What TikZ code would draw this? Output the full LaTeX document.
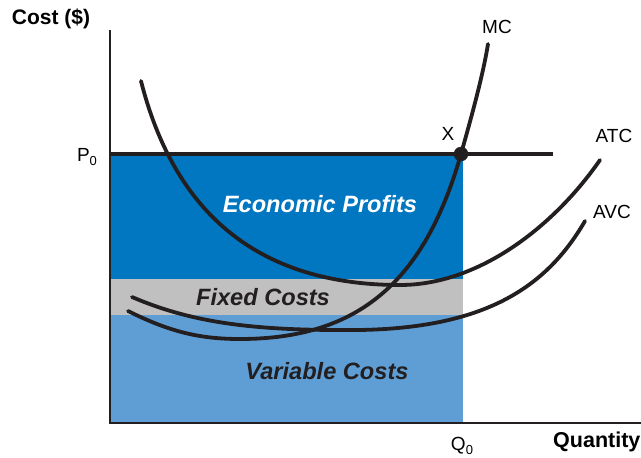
\documentclass[tikz,border=0pt]{standalone}
\usepackage{fontspec}
\setmainfont{Liberation Sans}
\definecolor{profitblue}{RGB}{0,119,192}
\definecolor{fixedgray}{RGB}{192,192,192}
\definecolor{varblue}{RGB}{95,158,213}
\definecolor{curveink}{RGB}{35,31,32}
\newcommand{\lowidx}[1]{\raisebox{-0.35ex}{\fontsize{13}{13}\selectfont #1}}
\tikzset{
  curve/.style={line width=3.8pt, color=curveink, line cap=round},
  axis/.style={line width=2.4pt, color=curveink},
  lbl/.style={font=\fontsize{19}{19}\selectfont, inner sep=0pt},
  area/.style={font=\fontsize{23.6}{24}\selectfont\bfseries\itshape, inner sep=0pt}
}

\begin{document}
\begin{tikzpicture}[x=1pt, y=-1pt]
  \useasboundingbox (0,0) rectangle (641,458);
  % shaded areas
  \fill[profitblue] (110,154) rectangle (463,279);
  \fill[fixedgray] (110,279) rectangle (463,315);
  \fill[varblue] (110,315) rectangle (463,423);
  % axes
  \coordinate (O) at (110,423);
  \coordinate (ytop) at (110,30);
  \coordinate (xend) at (645,423);
  \draw[axis] (ytop) -- (O) -- (xend);
  % price line
  \coordinate (p0) at (110,154);
  \coordinate (pend) at (553,154);
  \draw[curve, line cap=butt] (p0) -- (pend);
  % ATC
  \draw[curve] (141,81) .. controls (175,215) and (260,285) .. (400,285)
    .. controls (480,285) and (555,225) .. (600,160);
  % AVC
  \draw[curve] (132,297) .. controls (190,322) and (250,330) .. (340,330)
    .. controls (480,332) and (545,290) .. (585,221);
  % MC
  \draw[curve] (128,311) .. controls (170,332) and (200,339) .. (240,339)
    .. controls (360,339) and (425,280) .. (461,154)
    .. controls (472,115) and (483,75) .. (488,44);
  \filldraw[curveink] (461,154) circle (7pt) node (x) {};
  % labels
  \node[lbl] (xlbl) at (448,134) {X};
  \node[lbl] (mc) at (497,27) {MC};
  \node[lbl] (atc) at (614,136) {ATC};
  \node[lbl] (avc) at (612,212) {AVC};
  \node[lbl] (plbl) at (87,157) {P\lowidx{0}};
  \node[lbl] (qlbl) at (462,446) {Q\lowidx{0}};
  \node[font=\fontsize{21}{21}\selectfont\bfseries, inner sep=0pt] (cost) at (51,19) {Cost (\$)};
  \node[font=\fontsize{21.5}{22}\selectfont\bfseries, inner sep=0pt, anchor=west] (qty) at (553,442) {Quantity};
  \node[area, white] (econ) at (320,204) {Economic Profits};
  \node[area, curveink] (fixed) at (263,297) {Fixed Costs};
  \node[area, curveink] (var) at (327,371) {Variable Costs};
\end{tikzpicture}
\end{document}
